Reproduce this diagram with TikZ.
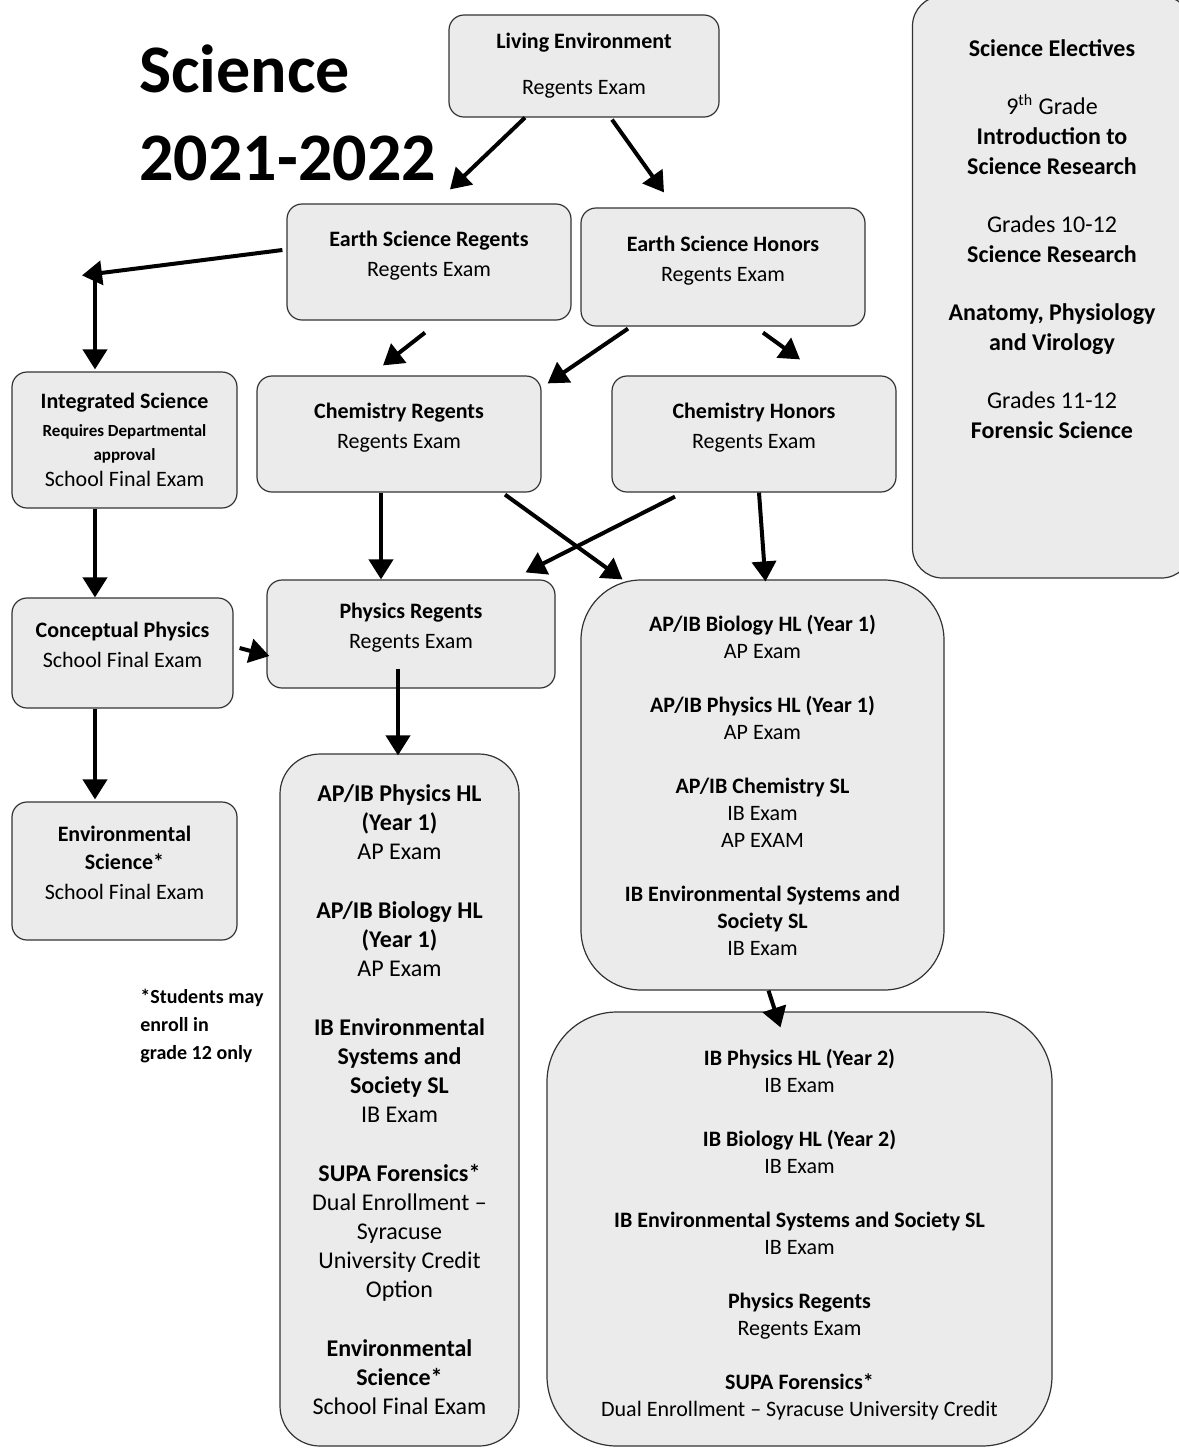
\documentclass[tikz,border=0pt]{standalone}
\usepackage{fontspec}
\setmainfont{Carlito}
\usetikzlibrary{shapes,arrows,arrows.meta,calc,positioning}
\definecolor{boxgray}{RGB}{235,235,235}
\tikzset{
    course/.style = {draw=black!80, fill=boxgray, rectangle,
        rounded corners=7.5pt, line width=0.6pt,
        align=center, inner sep=2pt,
        font=\fontsize{11}{15}\selectfont},
    pathway/.style = {course, font=\fontsize{11}{13.5}\selectfont},
    flow/.style = {->, line width=2pt},
}
\tikzstyle{heading} = [align=left, inner sep=0pt, font=\fontsize{34}{44}\selectfont\bfseries]
\tikzstyle{note} = [align=left, inner sep=0pt, font=\fontsize{10}{14}\selectfont\bfseries]

\begin{document}
\begin{tikzpicture}[x=0.5pt, y=-0.5pt, >={Triangle[length=10pt,width=12pt]}]
	\useasboundingbox (0,0) rectangle (1179,1448);
	
	% heading and footnote (base = last line)
	\node (title) [heading, anchor=base west] at (139,180) {Science\\2021-2022};
	\node (footnote) [note, anchor=base west] at (140,1059) {*Students may\\enroll in\\grade 12 only};
	
	% course blocks
	\node (livEnv) [course, minimum width=135pt, minimum height=51pt] at (584,66) {\textbf{Living Environment}\\[8pt]Regents Exam};
	\node (esReg) [course, minimum width=142pt, minimum height=58pt] at (429,262) {\textbf{Earth Science Regents}\\Regents Exam\\[-7pt]};
	\node (esHon) [course, minimum width=142pt, minimum height=59pt] at (723,267) {\textbf{Earth Science Honors}\\Regents Exam\\[-7pt]};
	\node (intSci) [course, minimum width=112.5pt, minimum height=68pt] at (124.5,440) {\textbf{Integrated Science}\\[-1pt]{\fontsize{8.5}{10}\selectfont\bfseries Requires Departmental}\\[-3pt]{\fontsize{8.5}{10}\selectfont\bfseries approval}\\[-2pt]School Final Exam};
	\node (chemReg) [course, minimum width=142pt, minimum height=58pt] at (399,434) {\textbf{Chemistry Regents}\\Regents Exam\\[-7pt]};
	\node (chemHon) [course, minimum width=142pt, minimum height=58pt] at (754,434) {\textbf{Chemistry Honors}\\Regents Exam\\[-7pt]};
	\node (concPhys) [course, minimum width=110.5pt, minimum height=55pt] at (122.5,653) {\textbf{Conceptual Physics}\\School Final Exam\\[-7pt]};
	\node (physReg) [course, minimum width=144pt, minimum height=54pt] at (411,634) {\textbf{Physics Regents}\\Regents Exam\\[-7pt]};
	\node (envSci) [course, minimum width=112.5pt, minimum height=69pt] at (124.5,871) {\textbf{Environmental}\\[-1pt]\textbf{Science*}\\School Final Exam\\[-7pt]};
	
	% pathway blocks
	\node (apRight) [pathway, rounded corners=30pt, minimum width=181.5pt, minimum height=205pt] at (762.5,785) {\textbf{AP/IB Biology HL (Year 1)}\\AP Exam\\[13.5pt]
		\textbf{AP/IB Physics HL (Year 1)}\\AP Exam\\[13.5pt]
		\textbf{AP/IB Chemistry SL}\\IB Exam\\AP EXAM\\[13.5pt]
		\textbf{IB Environmental Systems and}\\\textbf{Society SL}\\IB Exam};
	\node (apMid) [pathway, rounded corners=20pt, minimum width=119.5pt, minimum height=346pt, font=\fontsize{12}{14.5}\selectfont] at (399.5,1100) {\textbf{AP/IB Physics HL}\\\textbf{(Year 1)}\\AP Exam\\[15pt]
		\textbf{AP/IB Biology HL}\\\textbf{(Year 1)}\\AP Exam\\[15pt]
		\textbf{IB Environmental}\\\textbf{Systems and}\\\textbf{Society SL}\\IB Exam\\[15pt]
		\textbf{SUPA Forensics*}\\Dual Enrollment --\\Syracuse\\University Credit\\Option\\[15pt]
		\textbf{Environmental}\\\textbf{Science*}\\School Final Exam};
	\node (ibRight) [pathway, rounded corners=35pt, minimum width=252.5pt, minimum height=217pt] at (799.5,1229) {\mbox{}\\\textbf{IB Physics HL (Year 2)}\\IB Exam\\[13.5pt]
		\textbf{IB Biology HL (Year 2)}\\IB Exam\\[13.5pt]
		\textbf{IB Environmental Systems and Society SL}\\IB Exam\\[13.5pt]
		\textbf{Physics Regents}\\Regents Exam\\[13.5pt]
		\textbf{SUPA Forensics*}\\Dual Enrollment -- Syracuse University Credit};
	\node (electives) [pathway, rounded corners=15pt, minimum width=139.5pt, minimum height=291pt, font=\fontsize{12}{15}\selectfont] at (1052,287) {\textbf{Science Electives}\\[14pt]
		9\textsuperscript{th} Grade\\\textbf{Introduction to}\\\textbf{Science Research}\\[14pt]
		Grades 10-12\\\textbf{Science Research}\\[14pt]
		\textbf{Anatomy, Physiology}\\\textbf{and Virology}\\[14pt]
		Grades 11-12\\\textbf{Forensic Science}\\[33pt]};
	
	% split point left of Earth Science Regents
	\coordinate (turn) at ($(intSci.north)+(-29.5,-100)$);
	
	%% edges
	\draw[flow] ($(livEnv.south)+(-59,0)$) -- ($(esReg.north)+(21,-14)$);
	\draw[flow] ($(livEnv.south)+(28,2)$) -- ($(esHon.north)+(-59,-15)$);
	\draw[flow] ($(esReg.west)+(-4,-12)$) -- ($(turn)+(-13,4)$);
	\draw[flow] (turn) -- ($(intSci.north)+(-29.5,-2)$);
	\draw[flow] ($(esReg.south)+(-4,12)$) -- ($(chemReg.north)+(-16,-10)$);
	\draw[flow] ($(esHon.south)+(-95,2)$) -- ($(chemReg.north east)+(6,8)$);
	\draw[flow] ($(esHon.south)+(40,6)$) -- ($(chemHon.north)+(46,-16)$);
	\draw[flow] ($(intSci.south)+(-29.5,0)$) -- ($(concPhys.north)+(-27.5,0)$);
	\draw[flow] ($(chemReg.south)+(-18,0)$) -- ($(physReg.north)+(-30,0)$);
	\draw[flow] ($(chemReg.south)+(106,2)$) -- ($(apRight.north)+(-140,0)$);
	\draw[flow] ($(chemHon.south)+(-79,4)$) -- ($(physReg.north east)+(-30,-7)$);
	\draw[flow] ($(chemHon.south)+(5,0)$) -- ($(apRight.north)+(3,2)$);
	\draw[flow] ($(concPhys.east)+(6,-5)$) -- ($(physReg.west)+(3,22)$);
	\draw[flow] ($(physReg.south)+(-13,-20)$) -- ($(apMid.north)+(-1.5,2)$);
	\draw[flow] ($(concPhys.south)+(-27.5,0)$) -- ($(envSci.north)+(-29.5,-2)$);
	\draw[flow] ($(apRight.south)+(6,0)$) -- ($(ibRight.north)+(-19,16)$);
	
\end{tikzpicture}
\end{document}
